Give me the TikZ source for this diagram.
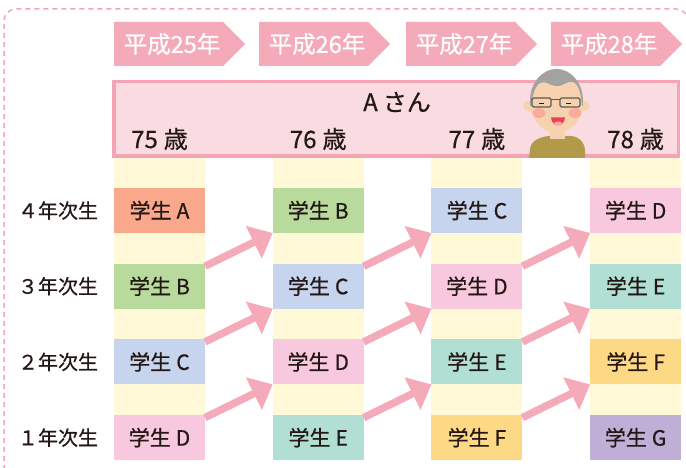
\documentclass[tikz,border=0pt]{standalone}
\usepackage{fontspec}
\setmainfont{Noto Sans CJK JP}[FakeBold=0.6]
\usetikzlibrary{arrows.meta,calc}
\definecolor{inkdark}{HTML}{231815}
\definecolor{bannerpink}{HTML}{F5AABA}
\definecolor{agefill}{HTML}{FADBE1}
\definecolor{ageline}{HTML}{F3A5B6}
\definecolor{stripyellow}{HTML}{FFF9D8}
\definecolor{stu0}{HTML}{F9A88C}
\definecolor{stu1}{HTML}{B8DB9D}
\definecolor{stu2}{HTML}{C6D4EE}
\definecolor{stu3}{HTML}{F8C9DE}
\definecolor{stu4}{HTML}{B2DFD3}
\definecolor{stu5}{HTML}{FDD986}
\definecolor{stu6}{HTML}{BFAED5}
\definecolor{skin}{HTML}{F7D2AE}
\definecolor{hairgray}{HTML}{A2A2A0}
\definecolor{shirt}{HTML}{B39A4B}
\definecolor{mouthred}{HTML}{E8444F}
\newcommand{\stuletter}[1]{\ifcase#1 A\or B\or C\or D\or E\or F\or G\fi}
\newcommand{\gradelabel}[1]{\ifcase#1 ０\or １\or ２\or ３\or ４\fi}
\tikzset{
  frame/.style    = {ageline, line width=1.5pt, dash pattern=on 5pt off 4pt, rounded corners=12pt},
  yearflag/.style = {fill=bannerpink},
  yeartext/.style = {white, font=\fontsize{23.5}{26}\selectfont, inner sep=0pt},
  agebox/.style   = {fill=agefill, draw=ageline, line width=3.5pt},
  agetext/.style  = {inkdark, font=\fontsize{24}{26}\selectfont, inner sep=0pt},
  stubox/.style   = {minimum width=91pt, minimum height=45pt, inner sep=0pt, outer sep=0pt,
                     text=inkdark, font=\fontsize{21}{24}\selectfont},
  gradetext/.style= {inkdark, font=\fontsize{20}{24}\selectfont, inner sep=0pt},
  uparrow/.style  = {bannerpink, line width=7.5pt, -{Triangle[width=35pt,length=21pt]}}
}

\begin{document}
\begin{tikzpicture}[x=1pt,y=-1pt]
  \clip (0,0) rectangle (686,468);
  \draw[frame] (4,500) rectangle (688,9);

  % year flags
  \foreach \x/\yr [count=\i] in {114/25,259/26,406/27,551/28}{
    \fill[yearflag] (\x,22) -- ++(109,0) -- ++(22,22) -- ++(-22,22) -- ++(-109,0) -- cycle;
    \node[yeartext] (yr\i) at (\x+58,44) {平成\yr 年};
  }

  % yellow strips behind the student columns
  \foreach \c in {0,...,3}
    { \fill[stripyellow] ({114+158.7*\c},158) rectangle ++(91,302); }

  % A-san age band
  \draw[agebox] (113.75,81.75) rectangle (678.25,156.25);
  \node[agetext] (asan) at (397,102) {A\hspace{5pt}さん};
  \foreach \c/\age in {0/75,1/76,2/77,3/78}
    { \node[agetext] (age\age) at ({159.5+158.7*\c},139) {\age\hspace{6pt}歳}; }

  % A-san himself
  \begin{scope}
    \fill[shirt] (529,158) -- (530,149) .. controls (531,141) and (539,137) .. (549,136)
      -- (571,136) .. controls (580,137) and (584,142) .. (585,150) -- (585,158) -- cycle;
    \fill[skin] (550,124) rectangle (565,139);
    \fill[skin] (529,106) circle (5.5);
    \fill[skin] (584,106) circle (5.5);
    \fill[skin] (556.5,101) ellipse (26.5 and 32);
    \begin{scope}
      \clip (556.5,101) ellipse (26.5 and 32);
      \fill[hairgray] (526,106) -- (526,64) -- (586,64) -- (586,106) -- (582,106)
        .. controls (581,94) and (579,84) .. (573,82)
        .. controls (567,80) and (565,86) .. (557,86)
        .. controls (549,86) and (546,80) .. (540,83)
        .. controls (535,86) and (532,96) .. (531,106) -- cycle;
    \end{scope}
    \fill[red!45,opacity=0.55] (539,113) ellipse (6.5 and 5);
    \fill[red!45,opacity=0.55] (575,113) ellipse (6.5 and 5);
    \draw[gray!70!black, line width=1.2pt, rounded corners=1.5pt]
      (532,98) rectangle (551,107) (560,98) rectangle (580,107);
    \draw[gray!70!black, line width=1pt] (551,100) -- (560,100);
    \draw[inkdark, line width=1.1pt] (539,103.5) -- (544,103.5) (566,103.5) -- (571,103.5);
    \fill[mouthred] (551,117.5) .. controls (552,128) and (564,128) .. (565,117.5) -- cycle;
    \fill[red!35] (553.5,123) .. controls (556,126) and (560,126) .. (562.5,123)
      .. controls (559.5,121) and (556.5,121) .. (553.5,123) -- cycle;
  \end{scope}

  % students per year column
  \foreach \c in {0,...,3}{
    \foreach \p in {0,...,3}{
      \pgfmathtruncatemacro\n{\c+\p}
      \node[stubox, fill=stu\n] (s\c\p) at ({159.5+158.7*\c},{210.5+75.7*\p}) {学生\hspace{5pt}\stuletter{\n}};
    }
  }

  % grade labels
  \foreach \p in {0,...,3}{
    \pgfmathtruncatemacro\g{4-\p}
    \node[gradetext] (g\g) at (58,{210.5+75.7*\p}) {\gradelabel{\g}年次生};
  }

  % everyone moves up one grade per year
  \foreach \c in {0,1,2}{
    \foreach \p in {1,2,3}{
      \pgfmathtruncatemacro\nc{\c+1}
      \pgfmathtruncatemacro\q{\p-1}
      \draw[uparrow] ($(s\c\p.north east)+(0,2.5)$) -- (s\nc\q.south west);
    }
  }
\end{tikzpicture}
\end{document}
